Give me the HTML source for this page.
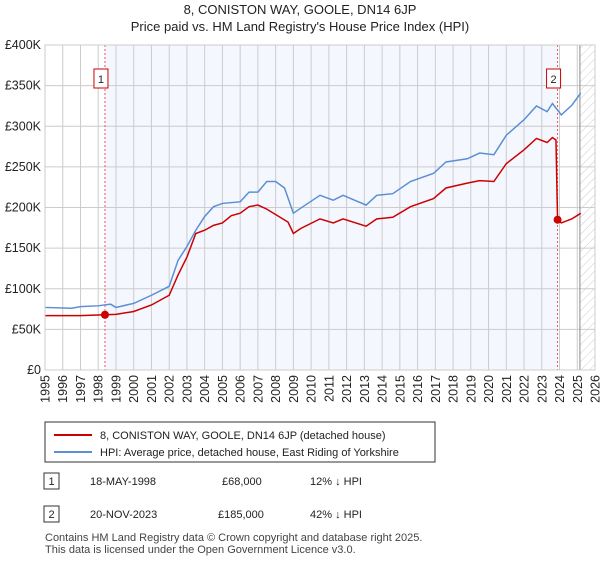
<!DOCTYPE html>
<html><head><meta charset="utf-8"><style>
body{margin:0;background:#fff;font-family:"Liberation Sans",sans-serif;}
svg text{font-family:"Liberation Sans",sans-serif;}
</style></head><body>
<svg width="600" height="560" xmlns="http://www.w3.org/2000/svg" id="chart">
<defs><pattern id="hatch" width="6" height="6" patternUnits="userSpaceOnUse" patternTransform="rotate(45)"><line x1="0" y1="0" x2="0" y2="6" stroke="#ccc" stroke-width="1"/></pattern></defs>
<text x="300" y="14" text-anchor="middle" font-size="13" fill="#222">8, CONISTON WAY, GOOLE, DN14 6JP</text>
<text x="300" y="31" text-anchor="middle" font-size="13" fill="#222">Price paid vs. HM Land Registry's House Price Index (HPI)</text>
<g id="plot"></g>
<g>
<rect x="45" y="422" width="390" height="40" fill="#fff" stroke="#333" stroke-width="1"/>
<line x1="54" y1="435" x2="92" y2="435" stroke="#cc0000" stroke-width="2"/>
<text x="100" y="439" font-size="11" fill="#222">8, CONISTON WAY, GOOLE, DN14 6JP (detached house)</text>
<line x1="54" y1="452" x2="92" y2="452" stroke="#5b8fd4" stroke-width="2"/>
<text x="100" y="456" font-size="11" fill="#222">HPI: Average price, detached house, East Riding of Yorkshire</text>
</g>
<g font-size="11" fill="#222">
<rect x="44" y="473" width="15" height="16" fill="#fff" stroke="#333"/><text x="51.5" y="485" text-anchor="middle">1</text>
<text x="90" y="485">18-MAY-1998</text><text x="222" y="485">£68,000</text><text x="310" y="485">12% ↓ HPI</text>
<rect x="44" y="506" width="15" height="16" fill="#fff" stroke="#333"/><text x="51.5" y="518" text-anchor="middle">2</text>
<text x="90" y="518">20-NOV-2023</text><text x="218" y="518">£185,000</text><text x="310" y="518">42% ↓ HPI</text>
</g>
<text x="45" y="541" font-size="11" fill="#444">Contains HM Land Registry data © Crown copyright and database right 2025.</text>
<text x="45" y="553" font-size="11" fill="#444">This data is licensed under the Open Government Licence v3.0.</text>
</svg>
<script>
const hpiYears=[1995,1996.5,1997,1998,1998.7,1999,2000,2001,2002,2002.5,2003,2003.5,2004,2004.5,2005,2006,2006.5,2007,2007.5,2008,2008.5,2009,2009.4,2010.5,2011.25,2011.8,2013.1,2013.7,2014.6,2015.6,2016.9,2017.6,2018.8,2019.5,2020.3,2021,2022,2022.7,2023.3,2023.6,2024.1,2024.7,2025.2];
const hpiValues=[77,76,78,79,81,77,82,92,103,135,152,172,189,201,205,207,219,219,232,232,224,193,199,215,209,215,203,215,217,232,242,256,260,267,265,289,308,325,318,328,314,326,341];
const propYears=[1995,1997,1998.38,1999,2000,2001,2002,2002.5,2003,2003.5,2004,2004.5,2005,2005.5,2006,2006.5,2007,2007.5,2008.7,2009,2009.4,2010.5,2011.25,2011.8,2013.1,2013.7,2014.6,2015.6,2016.9,2017.6,2018.8,2019.5,2020.3,2021,2022,2022.7,2023.3,2023.6,2023.8,2023.89,2024.1,2024.7,2025.2];
const propValues=[67,67,68,68.5,72,80,92,117,139,168,172,178,181,190,193,201,203,198,182,168,174,186,181,186,177,186,188,201,211,224,230,233,232,254,271,285,280,286,283,185,181,186,193];
const saleYears=[1998.38,2023.89];
const saleValues=[68,185];
const yTicks=[0,50,100,150,200,250,300,350,400];
const yTickLabels=["£0","£50K","£100K","£150K","£200K","£250K","£300K","£350K","£400K"];
const xTicks=[1995,1996,1997,1998,1999,2000,2001,2002,2003,2004,2005,2006,2007,2008,2009,2010,2011,2012,2013,2014,2015,2016,2017,2018,2019,2020,2021,2022,2023,2024,2025,2026];
const L=45,R=595,T=45,B=370;
const x=y=>L+(y-1995)*(R-L)/31;
const yv=v=>B-v*(B-T)/400;
const NS="http://www.w3.org/2000/svg";
const g=document.getElementById('plot');
function mk(tag,attrs,parent){const e=document.createElementNS(NS,tag);for(const k in attrs)e.setAttribute(k,attrs[k]);(parent||g).appendChild(e);return e;}
const sh=mk('rect',{x:x(saleYears[0]),y:T,width:x(saleYears[1])-x(saleYears[0]),height:B-T,fill:'#f4f7fe'});


const ht=mk('rect',{x:x(2025.15),y:T,width:R-x(2025.15),height:B-T,fill:'url(#hatch)'});


xTicks.forEach(t=>{const l=mk('line',{x1:x(t),x2:x(t),y1:T,y2:B,stroke:'#ccc','stroke-width':1});


const px=x(t)+4.5,py=B+5;
const tx=mk('text',{x:px,y:py,'text-anchor':'end','font-size':12.5,fill:'#222',transform:'rotate(-90 '+px+' '+py+')'});tx.textContent=t;

});
yTicks.forEach((t,i)=>{const l=mk('line',{x1:L,x2:R,y1:yv(t),y2:yv(t),stroke:'#ccc','stroke-width':1});


const tx=mk('text',{x:L-4,y:yv(t)+4,'text-anchor':'end','font-size':12.5,fill:'#222'});tx.textContent=yTickLabels[i];

});
const el=mk('line',{x1:x(2025.15),x2:x(2025.15),y1:T,y2:B,stroke:'#888','stroke-width':1});


saleYears.forEach((s,i)=>{const l=mk('line',{x1:x(s),x2:x(s),y1:T,y2:B,stroke:'#ee5555','stroke-width':1,'stroke-dasharray':'2,2'});


const bx=x(s)-4;
const r=mk('rect',{x:bx-7,y:69,width:14,height:19,fill:'#fff',stroke:'#cc0000'});


const t=mk('text',{x:bx,y:83,'text-anchor':'middle','font-size':11,fill:'#222'});t.textContent=String(i+1);

});
const hp=mk('polyline',{points:hpiYears.map((yy,i)=>x(yy)+','+yv(hpiValues[i])).join(' '),fill:'none',stroke:'#5b8fd4','stroke-width':1.5});


const pp=mk('polyline',{points:propYears.map((yy,i)=>x(yy)+','+yv(propValues[i])).join(' '),fill:'none',stroke:'#cc0000','stroke-width':1.5});


saleYears.forEach((s,i)=>{const c=mk('circle',{cx:x(s),cy:yv(saleValues[i]),r:4,fill:'#cc0000'});

});
const fr=mk('rect',{x:L,y:T,width:R-L,height:B-T,fill:'none',stroke:'#ccc'});


</script>
</body></html>
